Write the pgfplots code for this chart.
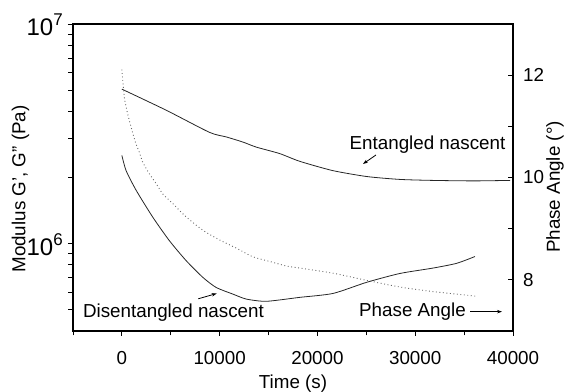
\documentclass[border=0pt]{standalone}
\usepackage{fontspec}
\setmainfont{Liberation Sans}
\usepackage{pgfplots}
\pgfplotsset{compat=1.18}
\usetikzlibrary{arrows.meta}
\newcommand{\fs}{\fontsize{18.8bp}{22bp}\selectfont}
\newcommand{\pw}[1]{{\fontsize{24bp}{26bp}\selectfont 10}\raisebox{10bp}{\fontsize{17bp}{18bp}\selectfont #1}}

\pgfplotstableread{
t G
0 5.05e6
4527 4.05e6
8963 3.21e6
10673 3.06e6
12374 2.90e6
13746 2.75e6
16133 2.57e6
18181 2.37e6
21562 2.15e6
25045 2.02e6
28425 1.96e6
31805 1.94e6
36000 1.93e6
39700 1.94e6
}\entangled

\pgfplotstableread{
t G
0 2.52e6
430 2.15e6
1455 1.75e6
3155 1.32e6
4865 1.03e6
6576 8.36e5
8276 7.02e5
9649 6.31e5
11349 5.89e5
12722 5.59e5
14770 5.46e5
18181 5.69e5
21593 5.93e5
25013 6.66e5
28425 7.31e5
31835 7.74e5
34232 8.13e5
36106 8.73e5
}\disentangled

\pgfplotstableread{
t A
0 12.11
256 11.56
697 11.16
1383 10.69
1793 10.49
2131 10.30
2817 10.07
3503 9.88
4179 9.68
5203 9.49
6576 9.23
8276 8.97
9987 8.78
11697 8.62
13398 8.45
15108 8.36
16819 8.27
18181 8.23
21593 8.13
25013 7.99
28425 7.86
31835 7.77
36281 7.68
}\phase

\begin{document}
\begin{tikzpicture}
\begin{axis}[
  scale only axis, width=440bp, height=307bp,
  at={(0,0)}, anchor=south west,
  xmin=-5000, xmax=40000,
  ymode=log, ymin=4e5, ymax=1e7,
  scaled x ticks=false,
  xtick={0,10000,20000,30000,40000},
  xticklabels={0,10000,20000,30000,40000},
  minor xtick={-5000,5000,15000,25000,35000},
  ytick={1e6,1e7},
  yticklabels={\pw{6},\pw{7}},
  minor ytick={5e5,6e5,7e5,8e5,9e5,2e6,3e6,4e6,5e6,6e6,7e6,8e6,9e6},
  xtick pos=left, ytick pos=left,
  tick align=outside,
  major tick length=5bp, minor tick length=4.5bp,
  axis line style={line width=1.1bp},
  every tick/.style={line width=0.9bp, black},
  xticklabel style={font=\fs, anchor=center, inner sep=0pt, yshift=-22bp},
  yticklabel style={anchor=base east, inner sep=0pt, xshift=-5bp, yshift=-11.5bp},
  clip=false,
]
\addplot[black!85, line width=0.8bp, smooth, tension=0.4] table[x=t,y=G] {\entangled};
\addplot[black!85, line width=0.8bp, smooth, tension=0.4] table[x=t,y=G] {\disentangled};
\node[font=\fs, anchor=base, inner sep=0pt] at (rel axis cs:0.8057,0.5896) {Entangled nascent};
\draw[-{Stealth[length=5bp,width=3.5bp]}, line width=0.8bp] (rel axis cs:0.6886,0.5733) -- (rel axis cs:0.6591,0.5440);
\node[font=\fs, anchor=base, inner sep=0pt] at (rel axis cs:0.2284,0.0423) {Disentangled nascent};
\draw[-{Stealth[length=5bp,width=3.5bp]}, line width=0.8bp] (rel axis cs:0.2848,0.1049) -- (rel axis cs:0.3266,0.1221);
\node[font=\fs, anchor=base, inner sep=0pt] at (rel axis cs:0.7716,0.0456) {Phase Angle};
\draw[-{Stealth[length=5bp,width=3.5bp]}, line width=0.8bp] (rel axis cs:0.9023,0.063) -- (rel axis cs:0.975,0.063);
\node[font=\fs, rotate=90, anchor=center] at (axis description cs:-0.1193,0.4625) {Modulus G', G" (Pa)};
\node[font=\fs, anchor=center] at (axis description cs:0.5,-0.1700) {Time (s)};
\end{axis}
\begin{axis}[
  scale only axis, width=440bp, height=307bp,
  at={(0,0)}, anchor=south west,
  xmin=-5000, xmax=40000, ymin=7, ymax=13,
  axis x line=none, axis y line*=right,
  xtick=\empty, scaled x ticks=false,
  ytick={8,10,12}, yticklabels={8,10,12}, minor ytick={9,11},
  ytick pos=right, tick align=inside,
  major tick length=5.5bp, minor tick length=5bp,
  axis line style={line width=1.1bp},
  every tick/.style={line width=0.9bp, black},
  yticklabel style={font=\fs, anchor=west, inner sep=0pt, xshift=10bp},
  clip=false,
]
\addplot[black!60, line width=0.9bp, dash pattern=on 0.9bp off 2.6bp, smooth, tension=0.4] table[x=t,y=A] {\phase};
\node[font=\fs, rotate=90, anchor=center] at (axis description cs:1.0955,0.469) {Phase Angle (°)};
\end{axis}
\pgfresetboundingbox
\path[use as bounding box] (-73bp,-61bp) rectangle (493bp,331bp);
\end{tikzpicture}
\end{document}
